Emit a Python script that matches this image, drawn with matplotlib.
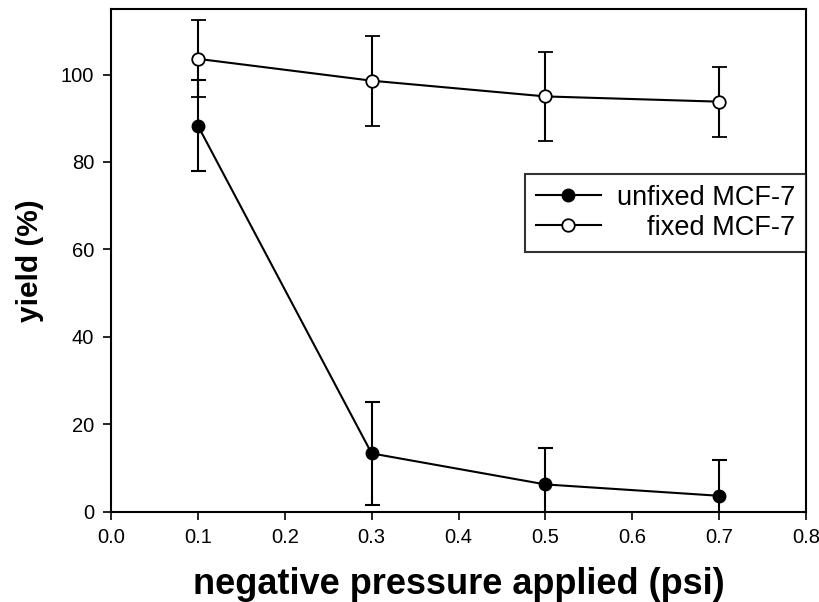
import matplotlib
matplotlib.use("Agg")
import matplotlib.pyplot as plt
from matplotlib.lines import Line2D

plt.rcParams['font.family'] = ['Liberation Sans', 'DejaVu Sans']

pressure = [0.1, 0.3, 0.5, 0.7]
unfixed = [88.3, 13.3, 6.2, 3.6]
unfixed_err = [10.4, 11.7, 8.4, 8.1]
fixed = [103.6, 98.6, 95.0, 93.8]
fixed_err = [8.8, 10.3, 10.2, 8.0]
labels = ["unfixed MCF-7", "fixed MCF-7"]
xticks = [0.0, 0.1, 0.2, 0.3, 0.4, 0.5, 0.6, 0.7, 0.8]
yticks = [0, 20, 40, 60, 80, 100]

fig = plt.figure(figsize=(8.2, 6.02), dpi=100)
ax = fig.add_axes([0.1354, 0.1503, 0.8476, 0.8347])

ax.errorbar(pressure, unfixed, yerr=unfixed_err, fmt='-o', color='black',
            markerfacecolor='black', markeredgecolor='black', markersize=9,
            linewidth=1.5, elinewidth=1.5, capsize=5.4, capthick=1.5)
ax.errorbar(pressure, fixed, yerr=fixed_err, fmt='-o', color='black',
            markerfacecolor='white', markeredgecolor='black', markersize=9,
            markeredgewidth=1.3, linewidth=1.5, elinewidth=1.5, capsize=5.4,
            capthick=1.5)

ax.set_xlim(0.0, 0.8)
ax.set_ylim(0, 115)
ax.set_xticks(xticks)
ax.set_xticklabels([f"{v:.1f}" for v in xticks])
ax.set_yticks(yticks)
ax.tick_params(direction='out', length=6, width=1.2, labelsize=14.5, pad=6)
for s in ax.spines.values():
    s.set_linewidth(1.5)

ax.set_xlabel("negative pressure applied (psi)", fontsize=26, fontweight='bold', labelpad=14)
ax.set_ylabel("yield (%)", fontsize=21.5, fontweight='bold', labelpad=12)

handles = [
    Line2D([], [], color='black', linewidth=1.5, marker='o', markersize=9,
           markerfacecolor='black', markeredgecolor='black'),
    Line2D([], [], color='black', linewidth=1.5, marker='o', markersize=9,
           markerfacecolor='white', markeredgecolor='black', markeredgewidth=1.3),
]
leg = ax.legend(handles, [labels[0], "    " + labels[1]], loc='upper right',
                bbox_to_anchor=(1.0, 0.6716), fontsize=19.5, frameon=True,
                fancybox=False, edgecolor='black', handlelength=2.4,
                handletextpad=0.6, borderpad=0.4, labelspacing=0.15,
                borderaxespad=0)
leg.get_frame().set_linewidth(1.5)

fig.savefig("out.png", dpi=100)
